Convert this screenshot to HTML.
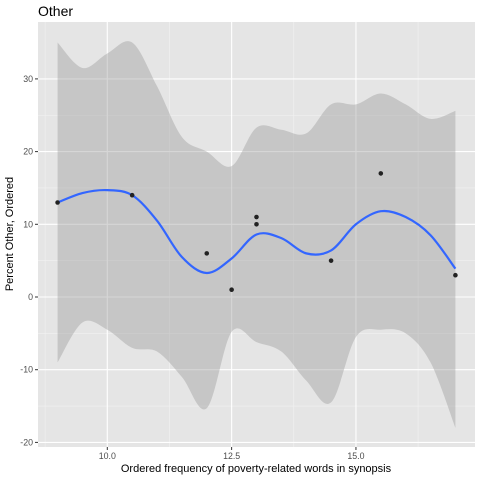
<!DOCTYPE html>
<html><head><meta charset="utf-8"><style>
html,body{margin:0;padding:0;background:#fff}
svg{display:block;font-family:"Liberation Sans",sans-serif}
</style></head><body>
<svg id="chart" width="480" height="480" viewBox="0 0 480 480">
<text x="38" y="16" font-size="14" fill="#000">Other</text>
<rect x="38" y="22" width="437" height="425" fill="#e5e5e5"/>
<g id="grid"></g>
<g id="band"></g>
<g id="line"></g>
<g id="pts"></g>
<g id="axes"></g>
<text x="256" y="472" font-size="11" text-anchor="middle" fill="#000">Ordered frequency of poverty-related words in synopsis</text>
<text transform="translate(13,234) rotate(-90)" font-size="11" text-anchor="middle" fill="#000">Percent Other, Ordered</text>
</svg>
<script>
const pointX=[9,10.5,12,12.5,13,13,14.5,15.5,17];
const pointY=[13,14,6,1,11,10,5,17,3];
const fitX=[9,9.5,10,10.5,11,11.5,12,12.5,13,13.5,14,14.5,15,15.5,16,16.5,17];
const fitY=[13,14.3,14.7,14,10.5,5.5,3.3,5.3,8.6,8.1,6.0,6.4,10,11.8,11,8.5,3.9];
const upperY=[35,31.5,33.5,35,29,22,20,18,23.3,23,22.5,26.5,26.5,28,26.5,24.5,25.6];
const lowerY=[-9,-3.5,-4.5,-7,-7.5,-11,-15.3,-4.8,-6.2,-7.5,-11.5,-14.5,-5.5,-4.5,-5,-9,-18];
const xTicks=[10,12.5,15];
const xTickLabels=["10.0","12.5","15.0"];
const yTicks=[-20,-10,0,10,20,30];
const yTickLabels=["-20","-10","0","10","20","30"];
const xMinor=[8.75,11.25,13.75,16.25];
const yMinor=[-15,-5,5,15,25];
const L=38,R=475,T=22,B=447;
function sx(v){return 107.3+49.73*(v-10);}
function sy(v){return 297-7.27*v;}
const NS="http://www.w3.org/2000/svg";
function mk(tag,attrs,parent){const e=document.createElementNS(NS,tag);for(const k in attrs)e.setAttribute(k,attrs[k]);parent.appendChild(e);return e;}
const grid=document.getElementById('grid');
xMinor.forEach(v=>{const e=mk('line',{x1:sx(v),x2:sx(v),y1:T,y2:B,stroke:'#f2f2f2','stroke-width':0.6},grid);

});
yMinor.forEach(v=>{const e=mk('line',{x1:L,x2:R,y1:sy(v),y2:sy(v),stroke:'#f2f2f2','stroke-width':0.6},grid);

});
xTicks.forEach(v=>{const e=mk('line',{x1:sx(v),x2:sx(v),y1:T,y2:B,stroke:'#fff','stroke-width':1.1},grid);

});
yTicks.forEach(v=>{const e=mk('line',{x1:L,x2:R,y1:sy(v),y2:sy(v),stroke:'#fff','stroke-width':1.1},grid);

});
function smooth(pts){let d='';for(let i=0;i<pts.length-1;i++){const p0=pts[i-1]||pts[i],p1=pts[i],p2=pts[i+1],p3=pts[i+2]||p2;
const c1=[p1[0]+(p2[0]-p0[0])/6,p1[1]+(p2[1]-p0[1])/6],c2=[p2[0]-(p3[0]-p1[0])/6,p2[1]-(p3[1]-p1[1])/6];
d+=` C${c1[0]},${c1[1]} ${c2[0]},${c2[1]} ${p2[0]},${p2[1]}`;}return d;}
const up=fitX.map((x,i)=>[sx(x),sy(upperY[i])]);
const lo=fitX.map((x,i)=>[sx(x),sy(lowerY[i])]).reverse();
const band=mk('path',{d:`M${up[0][0]},${up[0][1]}`+smooth(up)+` L${lo[0][0]},${lo[0][1]}`+smooth(lo)+' Z',fill:'#999','fill-opacity':0.4},document.getElementById('band'));


const fp=fitX.map((x,i)=>[sx(x),sy(fitY[i])]);
const ln=mk('path',{d:`M${fp[0][0]},${fp[0][1]}`+smooth(fp),fill:'none',stroke:'#3366ff','stroke-width':2.2},document.getElementById('line'));


pointX.forEach((x,i)=>{const c=mk('circle',{cx:sx(x),cy:sy(pointY[i]),r:2.3,fill:'#222'},document.getElementById('pts'));

});
const ax=document.getElementById('axes');
xTicks.forEach((v,i)=>{const t=mk('line',{x1:sx(v),x2:sx(v),y1:B,y2:B+3,stroke:'#333'},ax);


const l=mk('text',{x:sx(v),y:B+12,'font-size':8.8,'text-anchor':'middle',fill:'#4d4d4d'},ax);l.textContent=xTickLabels[i];

});
yTicks.forEach((v,i)=>{const t=mk('line',{x1:L-3,x2:L,y1:sy(v),y2:sy(v),stroke:'#333'},ax);


const l=mk('text',{x:L-5,y:sy(v)+3,'font-size':8.8,'text-anchor':'end',fill:'#4d4d4d'},ax);l.textContent=yTickLabels[i];

});
</script>
</body></html>
